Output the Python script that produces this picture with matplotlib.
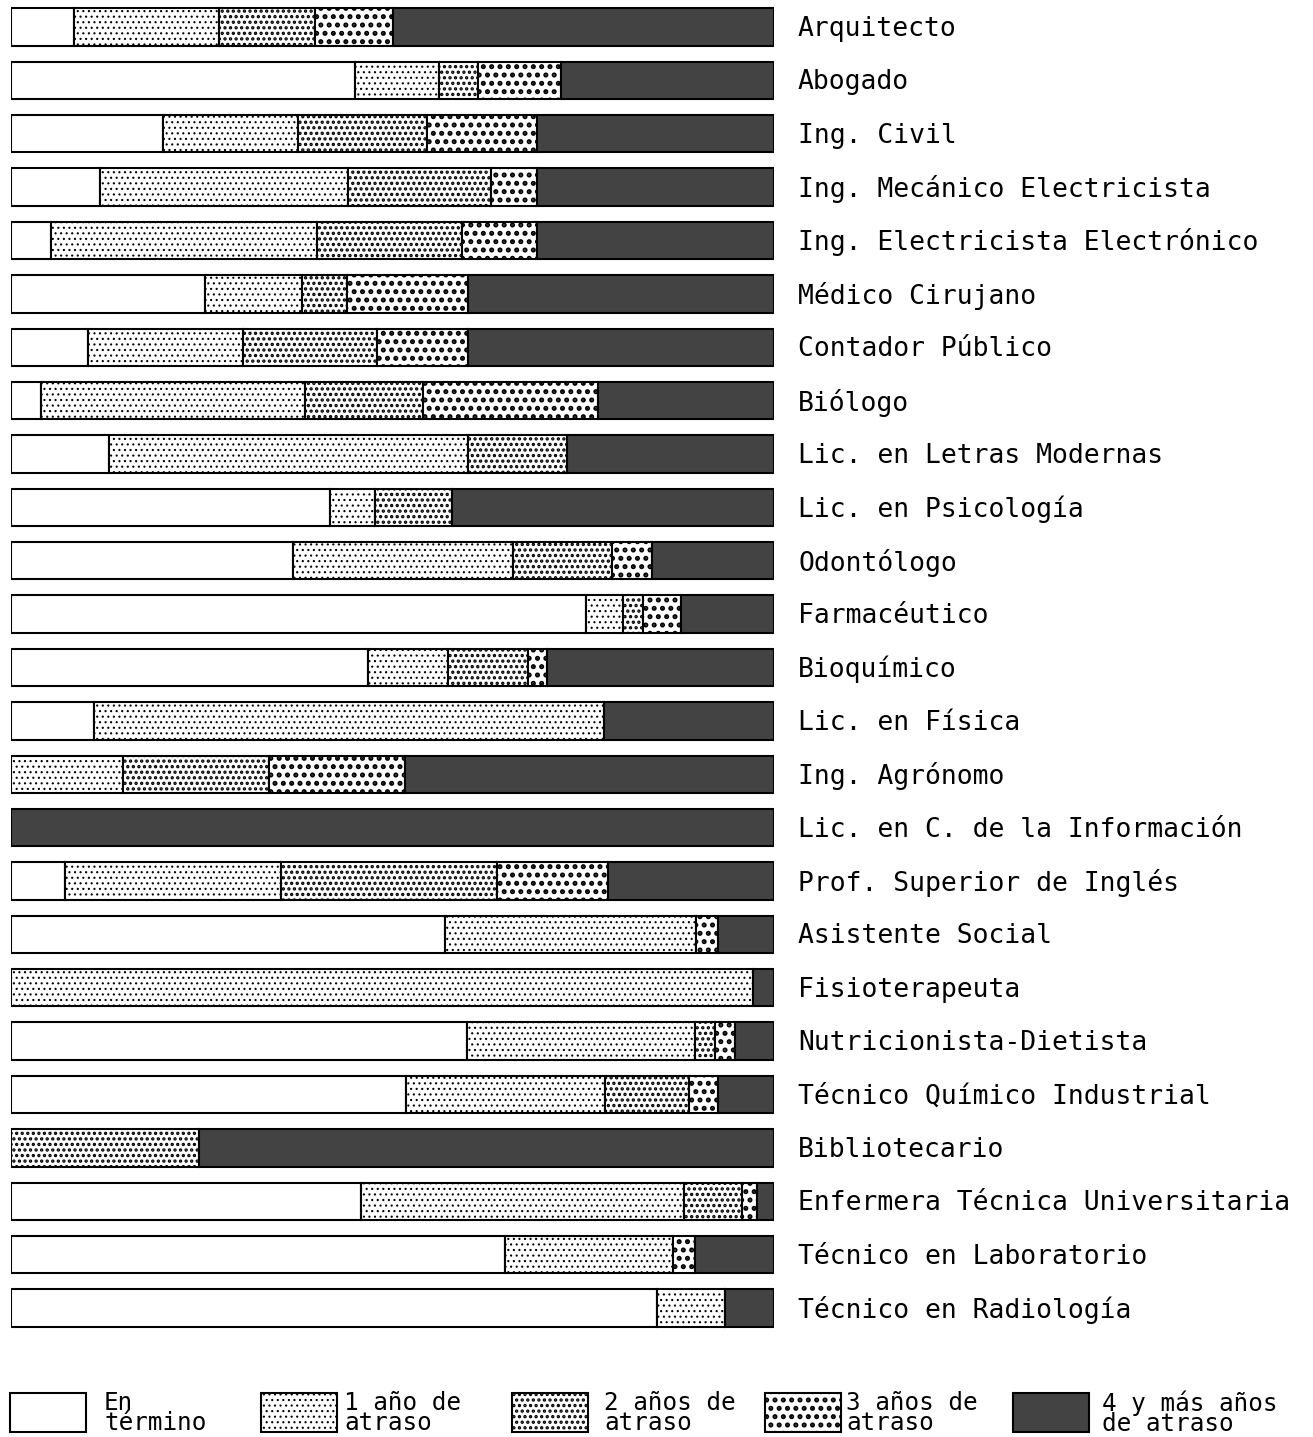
import numpy as np
import matplotlib.pyplot as plt
from matplotlib.patches import Rectangle

careers = ['Arquitecto', 'Abogado', 'Ing. Civil', 'Ing. Mecánico Electricista',
           'Ing. Electricista Electrónico', 'Médico Cirujano', 'Contador Público',
           'Biólogo', 'Lic. en Letras Modernas', 'Lic. en Psicología', 'Odontólogo',
           'Farmacéutico', 'Bioquímico', 'Lic. en Física', 'Ing. Agrónomo',
           'Lic. en C. de la Información', 'Prof. Superior de Inglés',
           'Asistente Social', 'Fisioterapeuta', 'Nutricionista-Dietista',
           'Técnico Químico Industrial', 'Bibliotecario',
           'Enfermera Técnica Universitaria', 'Técnico en Laboratorio',
           'Técnico en Radiología']

# percentages
en_termino = [8.3, 45.1, 19.9, 11.7, 5.2, 25.4, 10.1, 3.9, 12.8, 41.8, 37.0, 75.4, 46.8,
              10.9, 0, 0, 7.1, 56.9, 0, 59.8, 51.8, 0, 45.9, 64.7, 84.7]
atraso_1 = [19.0, 11.0, 17.7, 32.5, 34.9, 12.7, 20.3, 34.6, 47.1, 5.9, 28.8, 4.8, 10.5,
            66.8, 14.7, 0, 28.3, 32.9, 97.2, 29.9, 26.1, 0, 42.3, 22.1, 8.9]
atraso_2 = [12.6, 5.1, 16.9, 18.7, 19.0, 5.9, 17.6, 15.5, 13.0, 10.1, 13.0, 2.6, 10.4,
            0, 19.1, 0, 28.3, 0, 0, 2.6, 10.9, 24.6, 7.6, 0, 0]
atraso_3 = [10.2, 10.9, 14.4, 6.0, 9.8, 15.9, 11.9, 22.9, 0, 0, 5.2, 5.0, 2.6,
            0, 17.8, 0, 14.5, 2.9, 0, 2.6, 3.9, 0, 2.0, 2.8, 0]
atraso_4 = [49.9, 27.9, 31.1, 31.1, 31.1, 40.1, 40.1, 23.1, 27.1, 42.2, 16.0, 12.2, 29.7,
            22.3, 48.4, 100, 21.8, 7.3, 2.8, 5.1, 7.3, 75.4, 2.2, 10.4, 6.4]

legend_labels = ['En\ntérmino', '1 año de\natraso', '2 años de\natraso',
                 '3 años de\natraso', '4 y más años\nde atraso']

series = [en_termino, atraso_1, atraso_2, atraso_3, atraso_4]
styles = [dict(facecolor='white', hatch=None, hlw=1.0),
          dict(facecolor='white', hatch='...', hlw=0.8),
          dict(facecolor='white', hatch='...', hlw=1.6),
          dict(facecolor='white', hatch='..', hlw=2.4),
          dict(facecolor='#434343', hatch=None, hlw=1.0)]

fig = plt.figure(figsize=(13.13, 14.37), dpi=100)
ax = fig.add_axes([11 / 1313, 1 - 1334.7 / 1437, 763 / 1313, 1334.4 / 1437])

y = np.arange(len(careers))
left = np.zeros(len(careers))
for vals, st in zip(series, styles):
    vals = np.array(vals, dtype=float)
    plt.rcParams['hatch.linewidth'] = st['hlw']
    bars = ax.barh(y, vals, left=left, height=0.7, facecolor=st['facecolor'],
                   edgecolor='black', linewidth=1.5, hatch=st['hatch'])
    for b in bars:
        try:
            b.set_hatch_linewidth(st['hlw'])
        except AttributeError:
            pass
        if b.get_width() == 0:
            b.set_visible(False)
    left += vals

ax.set_xlim(0, 100)
ax.set_ylim(len(careers) - 0.5, -0.5)
ax.axis('off')

for i, name in enumerate(careers):
    fig.text(798 / 1313, 1 - (29 + i * 53.37) / 1437, name, fontsize=19,
             family='DejaVu Sans Mono', ha='left', va='center')

# legend
lax = fig.add_axes([0, 0, 1, 1], facecolor='none')
lax.set_xlim(0, 1313)
lax.set_ylim(1437, 0)
lax.axis('off')
box_x = [10, 261, 512, 765, 1013]
text_x = [104, 344, 604, 846, 1102]
for st, bx, tx, lab in zip(styles, box_x, text_x, legend_labels):
    plt.rcParams['hatch.linewidth'] = st['hlw']
    r = Rectangle((bx, 1393), 76, 39, facecolor=st['facecolor'], edgecolor='black',
                  linewidth=1.5, hatch=st['hatch'])
    try:
        r.set_hatch_linewidth(st['hlw'])
    except AttributeError:
        pass
    lax.add_patch(r)
    lax.text(tx, 1413, lab, fontsize=17.5, family='DejaVu Sans Mono', ha='left',
             va='center', linespacing=0.8)

fig.savefig('out.png', dpi=100)
